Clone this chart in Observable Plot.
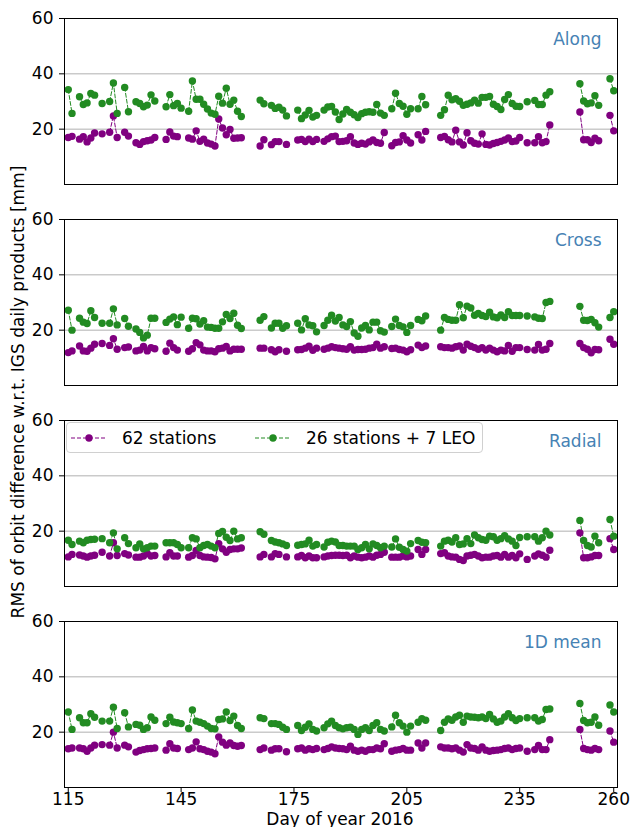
<!DOCTYPE html>
<html><head><meta charset="utf-8">
<script src="https://cdn.jsdelivr.net/npm/d3@7"></script>
<script src="https://cdn.jsdelivr.net/npm/@observablehq/plot@0.6"></script>
<style>
body{margin:0;background:#fff;}
#wrap{position:relative;width:633px;height:827px;font-family:"DejaVu Sans",sans-serif;color:#000;}
#ylab{position:absolute;left:18px;top:392px;transform:translate(-50%,-50%) rotate(-90deg);white-space:nowrap;font-size:17px;line-height:17px;}
#xlab{position:absolute;left:340px;top:819px;transform:translate(-50%,-50%);white-space:nowrap;font-size:17px;line-height:15px;}
#legend{position:absolute;left:66px;top:422px;width:417px;height:31px;border:1px solid #d0d0d0;border-radius:4px;background:rgba(255,255,255,0.85);font-size:17px;box-sizing:border-box;}
#legend .it{position:absolute;top:0;height:30px;display:flex;align-items:center;}
#legend svg{margin-right:15px;}
</style></head><body>
<div id="wrap"></div>
<script>
// Day of year (observed days)
const days = [
  115,116,118,119,120,121,122,124,126,127,128,130,131,133,134,135,136,137,138,141,142,143,144,145,147,148,149,150,151,152,153,154,155,156,157,158,159,160,161,
  166,167,169,170,171,172,173,176,177,178,179,180,181,183,184,185,186,187,188,189,190,191,192,193,194,195,196,197,198,199,201,202,203,204,205,206,208,209,210,
  214,215,216,217,218,219,220,221,222,223,224,225,226,227,228,229,230,231,232,233,234,235,237,239,240,241,242,243,251,252,253,254,255,256,259,260
];
const panels = ["Along", "Cross", "Radial", "1D mean"];
const seriesNames = ["62 stations", "26 stations + 7 LEO"];
const xTicks = [115, 145, 175, 205, 235, 260];
const yTicks = [20, 40, 60];

// RMS [mm], 62 stations (purple) and 26 stations + 7 LEO (green)
const alongA = [17.0,17.4,16.4,17.3,15.4,16.8,18.6,18.3,18.9,24.8,17.0,18.9,17.5,15.1,14.5,15.5,15.8,16.1,17.0,16.3,19.0,17.5,17.3,null,16.8,16.4,19.4,15.6,16.4,15.0,14.6,13.9,23.7,20.4,18.0,19.9,16.7,16.8,16.9,
  13.9,16.2,14.4,15.5,15.5,null,14.5,16.1,16.3,15.5,16.4,15.5,16.3,15.6,16.5,17.3,17.5,15.5,15.6,15.8,17.3,15.0,14.5,14.9,14.6,15.4,16.1,15.2,14.9,18.8,14.0,15.2,15.4,17.6,16.1,15.0,18.0,16.1,19.2,
  17.0,17.4,16.2,15.4,19.6,15.4,14.3,18.7,15.8,14.9,14.6,18.3,14.5,14.3,14.8,15.2,15.6,16.1,16.8,15.5,15.7,17.0,15.1,15.1,17.3,15.1,15.5,21.5,26.2,16.2,16.2,15.2,16.7,15.8,25.0,19.4];
const alongB = [34.3,25.7,31.7,28.9,29.5,32.9,32.3,29.3,30.0,36.7,25.7,35.1,26.3,29.9,29.3,28.1,28.7,32.4,30.2,28.1,32.5,28.5,29.3,27.6,26.5,37.4,30.8,30.8,29.0,27.3,25.8,25.4,31.9,29.4,34.8,29.0,30.5,26.5,24.6,
  30.5,29.2,28.6,27.5,27.9,26.9,24.8,26.9,23.8,25.1,26.8,24.4,25.0,26.9,28.0,28.2,26.2,23.5,25.5,27.1,26.1,25.2,24.2,25.6,26.1,26.3,26.1,28.9,25.8,25.0,27.4,33.0,29.3,28.3,25.4,27.4,27.4,31.8,28.8,
  25.0,27.0,32.3,30.6,31.0,30.1,28.6,29.0,29.5,30.5,29.4,31.5,31.5,31.8,29.0,28.2,27.1,30.7,32.5,29.3,28.3,28.2,29.9,30.4,28.9,28.9,32.3,33.5,36.4,30.2,29.2,29.5,32.1,28.6,38.2,33.9];
const crossA = [11.9,12.5,14.3,12.5,12.4,13.5,14.9,15.2,14.5,16.9,13.1,13.7,13.9,12.5,12.8,14.1,12.5,13.7,13.3,12.4,15.3,13.7,12.8,null,12.4,13.3,15.5,14.7,12.8,12.5,12.5,12.2,13.3,13.5,14.1,12.5,13.1,13.1,13.1,
  13.5,13.5,12.9,12.2,12.9,null,12.4,12.9,13.0,13.5,14.2,12.7,13.5,13.1,13.5,14.0,13.7,13.5,13.3,13.1,14.0,12.8,13.0,13.0,13.1,13.5,13.7,14.9,13.5,14.0,13.4,13.5,13.0,12.8,12.2,12.9,14.6,13.7,14.3,
  14.0,13.7,13.7,13.5,14.0,14.3,12.8,14.9,14.2,13.7,13.1,13.7,12.8,13.5,12.8,12.2,12.8,12.5,14.5,12.4,13.7,13.7,13.0,12.8,14.8,12.8,13.1,15.2,15.2,13.7,13.1,11.8,13.0,12.9,16.7,14.9];
const crossB = [27.2,20.0,24.3,22.9,22.4,27.0,24.6,22.5,22.5,27.7,21.9,24.2,21.4,20.4,19.2,17.2,18.2,24.3,24.3,22.8,24.0,24.8,22.0,24.7,20.7,24.3,24.1,22.2,23.4,21.1,21.0,20.7,20.7,23.0,25.7,24.2,26.1,21.8,20.6,
  23.6,24.9,20.8,22.5,22.5,20.7,21.6,22.5,20.1,24.1,21.9,21.6,19.4,21.7,23.6,25.4,23.3,24.6,21.9,21.3,23.1,19.0,17.8,20.8,21.7,20.1,22.9,22.9,19.8,19.3,21.3,24.0,21.7,21.2,19.2,21.7,23.9,23.4,25.1,
  20.0,24.6,23.9,23.6,23.6,29.2,24.5,28.7,28.0,25.4,26.0,25.3,24.9,26.5,24.8,24.5,25.5,24.6,26.7,25.3,25.3,25.3,25.1,24.8,24.3,24.2,30.0,30.4,28.6,23.6,23.5,23.9,22.7,21.1,24.6,26.7];
const radialA = [10.7,11.6,11.4,11.0,10.6,11.0,11.3,12.4,11.0,15.8,11.2,11.9,11.4,10.6,10.6,11.0,11.9,11.0,11.2,10.7,12.2,11.0,11.0,null,10.6,11.2,13.0,11.2,10.7,10.6,10.5,10.0,15.5,13.6,12.4,13.4,13.6,13.6,13.9,
  10.7,11.6,10.7,11.9,11.6,null,10.7,10.7,11.2,10.4,11.0,10.4,10.4,10.7,11.0,11.2,11.3,11.3,11.2,11.3,10.4,11.0,10.6,10.4,10.6,11.0,10.6,11.3,11.6,12.4,10.6,10.6,10.6,11.0,10.7,11.0,13.4,11.6,13.4,
  11.9,12.2,11.0,10.7,10.6,9.8,9.4,11.0,11.3,11.6,11.0,10.4,10.6,10.6,11.0,11.2,10.6,11.6,10.6,11.2,10.4,11.8,9.8,11.0,11.8,11.3,10.6,13.1,19.4,10.4,10.4,10.7,11.2,11.2,17.3,13.4];
const radialB = [16.7,15.2,16.4,15.8,16.7,17.0,17.1,17.3,15.8,19.4,13.6,17.6,15.5,14.0,15.4,13.6,14.0,14.6,14.6,15.8,15.8,15.8,15.2,14.0,14.0,17.6,17.2,14.0,14.8,15.2,14.6,14.0,19.2,19.9,17.8,16.6,20.0,17.2,17.6,
  19.8,18.9,16.6,16.1,15.8,15.4,14.8,14.9,15.2,15.4,16.7,14.6,15.2,14.3,16.0,16.4,16.1,14.8,14.8,14.6,14.6,14.6,13.4,14.0,15.2,13.6,15.4,14.8,14.0,14.6,14.3,17.2,14.2,13.4,12.8,15.5,16.6,16.0,15.8,
  14.6,16.4,16.7,16.1,17.6,15.2,15.4,17.3,15.5,18.6,17.6,17.0,16.7,18.2,18.0,16.7,17.3,18.4,17.2,16.4,14.8,17.7,18.0,18.0,16.4,17.6,20.0,18.6,23.9,16.6,14.8,14.3,18.2,15.8,24.2,18.2];
const meanA = [14.0,14.3,14.3,14.0,13.1,14.3,15.3,15.5,15.3,20.0,14.3,15.3,14.7,12.8,13.4,13.7,14.0,14.1,14.3,13.5,15.8,14.3,14.1,null,13.7,14.3,16.5,14.0,13.7,13.1,12.8,12.2,18.3,16.4,15.3,16.1,15.2,14.9,15.2,
  13.7,14.3,13.5,14.0,14.0,null,12.9,14.0,14.3,13.5,14.0,13.7,14.1,13.7,14.1,14.7,14.3,14.1,14.0,13.7,14.9,13.5,13.1,13.5,13.1,13.7,13.7,14.3,14.0,15.8,13.1,13.5,13.7,14.1,13.5,13.5,16.1,14.3,16.1,
  14.7,14.3,14.3,14.0,14.3,13.5,12.8,15.5,14.3,14.1,13.5,14.7,13.5,13.1,13.4,13.5,13.7,14.1,14.3,13.7,14.1,14.3,13.1,13.7,15.2,13.7,13.7,17.3,21.0,14.1,13.7,13.5,14.1,13.7,20.4,16.4];
const meanB = [27.3,21.0,25.2,23.4,23.4,26.7,25.4,24.0,24.0,29.0,21.3,27.0,21.9,22.8,22.5,21.0,21.6,25.5,24.3,23.1,25.4,23.7,23.4,23.1,21.3,28.0,24.0,23.6,23.1,22.2,21.3,21.2,24.6,24.8,27.3,24.2,25.8,22.4,21.3,
  25.2,24.9,23.1,23.1,22.8,21.8,21.0,22.4,20.6,21.8,23.0,21.0,20.4,21.6,23.0,24.0,22.4,21.6,21.2,21.6,21.8,21.0,19.2,21.0,21.6,20.6,22.4,23.4,21.0,20.4,21.9,26.1,23.4,22.2,20.0,22.2,23.6,24.9,24.3,
  20.6,23.6,24.8,24.3,25.5,26.1,23.6,25.8,25.5,25.4,25.2,25.5,24.9,26.4,24.8,23.6,24.0,25.5,26.7,25.2,24.2,24.9,25.2,25.2,24.0,24.6,28.2,28.4,30.4,24.2,23.4,23.6,25.5,22.5,29.8,27.3];

const colors = ["purple", "forestgreen"];
const valueSets = [[alongA, alongB], [crossA, crossB], [radialA, radialB], [meanA, meanB]];

// full daily table (missing days -> NaN so the dashed lines break)
const rows = [];
panels.forEach((p, pi) => {
  seriesNames.forEach((s, si) => {
    const m = new Map(days.map((d, i) => [d, valueSets[pi][si][i]]));
    for (let d = days[0]; d <= days[days.length - 1]; d++) {
      const v = m.get(d);
      rows.push({panel: p, series: s, day: d, value: (v == null) ? NaN : v});
    }
  });
});

const chart = Plot.plot({
  width: 633, height: 827,
  marginLeft: 64, marginRight: 16, marginTop: 17, marginBottom: 40,
  style: {fontFamily: "DejaVu Sans, sans-serif", fontSize: "17px", color: "black", background: "white"},
  x: {domain: [114, 261], label: null},
  y: {domain: [0, 60], label: null},
  fy: {domain: panels, axis: null, paddingInner: 0.1755, paddingOuter: 0},
  color: {domain: seriesNames, range: colors},
  marks: [
    Plot.gridY(yTicks, {stroke: "#b0b0b0", strokeOpacity: 1, strokeWidth: 1}),
    Plot.axisY(yTicks, {tickSize: 5, tickPadding: 6, fontSize: 17, label: null}),
    Plot.axisX(xTicks, {tickSize: 5, tickPadding: 0, fontSize: 17, label: null, tickFormat: d => String(d)}),
    Plot.lineY(rows, {x: "day", y: "value", fy: "panel", z: "series", stroke: "series", strokeWidth: 1, strokeDasharray: "4,2"}),
    Plot.dot(rows, {x: "day", y: "value", fy: "panel", fill: "series", r: 3.7, stroke: "none"}),
    Plot.text(panels, {text: d => d, fy: d => d, frameAnchor: "top-right", textAnchor: "end", lineAnchor: "middle", dx: -16, dy: 21, fill: "steelblue", fontSize: 17}),
    Plot.frame({stroke: "black", strokeWidth: 1})
  ]
});

const wrap = document.getElementById("wrap");
wrap.appendChild(chart);

const ylab = document.createElement("div");
ylab.id = "ylab";
ylab.textContent = "RMS of orbit difference w.r.t. IGS daily products [mm]";
wrap.appendChild(ylab);

const xlab = document.createElement("div");
xlab.id = "xlab";
xlab.textContent = "Day of year 2016";
wrap.appendChild(xlab);

const leg = document.createElement("div");
leg.id = "legend";
const legX = [4, 188];
seriesNames.forEach((s, i) => {
  const it = document.createElement("div");
  it.className = "it";
  it.style.left = legX[i] + "px";
  it.innerHTML = `<svg width="36" height="10"><line x1="0" x2="36" y1="5" y2="5" stroke="${colors[i]}" stroke-width="1" stroke-dasharray="4,2"/><circle cx="18" cy="5" r="3.7" fill="${colors[i]}"/></svg><span>${s}</span>`;
  leg.appendChild(it);
});
wrap.appendChild(leg);
</script>
</body></html>
